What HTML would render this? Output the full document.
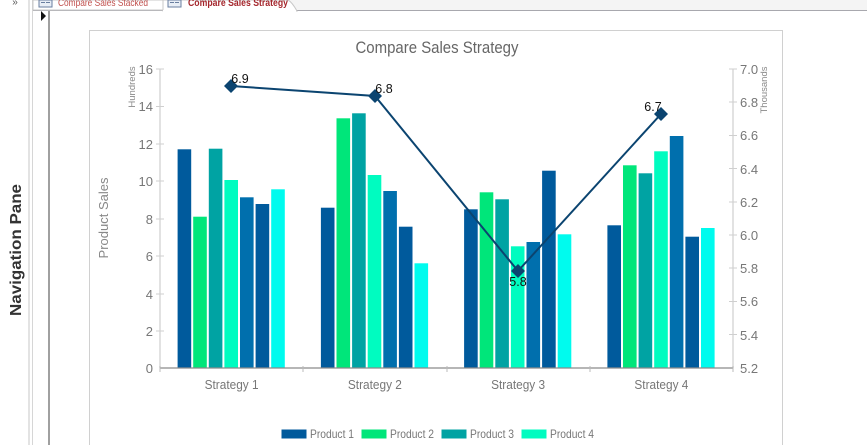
<!DOCTYPE html>
<html><head><meta charset="utf-8">
<style>
html,body{margin:0;padding:0;background:#fff;}
svg{display:block;font-family:"Liberation Sans",Arial,sans-serif;}
</style></head>
<body>
<svg width="867" height="445" viewBox="0 0 867 445" xmlns="http://www.w3.org/2000/svg">
<rect x="0" y="0" width="867" height="445" fill="#fff"/>
<!-- nav pane -->
<rect x="0" y="0" width="28" height="445" fill="#ffffff"/>
<rect x="28" y="0" width="2" height="445" fill="#e3e3e3"/>
<rect x="32" y="0" width="1" height="445" fill="#d6d6d6"/>
<text x="15" y="5" font-size="10" fill="#555" text-anchor="middle">»</text>
<text transform="translate(21,250) rotate(-90)" font-size="15.5" font-weight="bold" fill="#333" text-anchor="middle" textLength="132" lengthAdjust="spacingAndGlyphs">Navigation Pane</text>
<!-- tab bar -->
<rect x="33" y="0" width="834" height="10" fill="#f4f4f4"/>
<rect x="33" y="10" width="834" height="1" fill="#a8a8ae"/>
<path d="M33,0 L33,10 L163,10 L163,0 Z" fill="#fff" stroke="#c8c8c8" stroke-width="1"/>
<path d="M163,0 L163,11 L297,11 Q292,2 288,0 Z" fill="#fff" stroke="#c8c8c8" stroke-width="1"/>
<rect x="163" y="10" width="133" height="2" fill="#fff"/>
<!-- tab icons -->
<rect x="39" y="0" width="13" height="7" fill="#e8eef6" stroke="#6a7fa0" stroke-width="1"/>
<rect x="41" y="2" width="4" height="1" fill="#6a7fa0"/><rect x="46" y="2" width="4" height="1" fill="#6a7fa0"/>
<rect x="168" y="0" width="13" height="7" fill="#e8eef6" stroke="#6a7fa0" stroke-width="1"/>
<rect x="170" y="2" width="4" height="1" fill="#6a7fa0"/><rect x="175" y="2" width="4" height="1" fill="#6a7fa0"/>
<text x="58" y="6" font-size="10.5" fill="#c0504d" textLength="90" lengthAdjust="spacingAndGlyphs">Compare Sales Stacked</text>
<text x="188" y="6" font-size="10.5" font-weight="bold" fill="#a4262c" textLength="100" lengthAdjust="spacingAndGlyphs">Compare Sales Strategy</text>
<!-- record selector column -->
<rect x="48" y="11" width="2" height="434" fill="#a0a0a0"/>
<path d="M41,11 L46,16 L41,21 Z" fill="#111"/>
<!-- chart frame -->
<path d="M89.5,445 L89.5,30.5 L782.5,30.5 L782.5,445" fill="none" stroke="#d0d0d0" stroke-width="1"/>
<!-- title -->
<text x="437" y="53" font-size="16.5" fill="#666" text-anchor="middle" textLength="163" lengthAdjust="spacingAndGlyphs">Compare Sales Strategy</text>
<!-- axes -->
<line x1="160" y1="69" x2="160" y2="368" stroke="#d9d9d9" stroke-width="1.5"/>
<line x1="733" y1="69" x2="733" y2="368" stroke="#d9d9d9" stroke-width="1.5"/>
<g stroke="#cfcfcf" stroke-width="1">
<line x1="156" y1="69" x2="164" y2="69"/><line x1="156" y1="106.5" x2="164" y2="106.5"/>
<line x1="156" y1="144" x2="164" y2="144"/><line x1="156" y1="181" x2="164" y2="181"/>
<line x1="156" y1="219" x2="164" y2="219"/><line x1="156" y1="256" x2="164" y2="256"/>
<line x1="156" y1="294" x2="164" y2="294"/><line x1="156" y1="331" x2="164" y2="331"/>
<line x1="729" y1="69" x2="737" y2="69"/><line x1="729" y1="102" x2="737" y2="102"/>
<line x1="729" y1="135.5" x2="737" y2="135.5"/><line x1="729" y1="168.5" x2="737" y2="168.5"/>
<line x1="729" y1="202" x2="737" y2="202"/><line x1="729" y1="235" x2="737" y2="235"/>
<line x1="729" y1="268" x2="737" y2="268"/><line x1="729" y1="301.5" x2="737" y2="301.5"/>
<line x1="729" y1="334.5" x2="737" y2="334.5"/>
</g>
<g font-size="13" fill="#777" text-anchor="end">
<text x="153" y="74">16</text><text x="153" y="111">14</text><text x="153" y="149">12</text>
<text x="153" y="186">10</text><text x="153" y="224">8</text><text x="153" y="261">6</text>
<text x="153" y="299">4</text><text x="153" y="336">2</text><text x="153" y="373">0</text>
</g>
<g font-size="13" fill="#777">
<text x="740" y="74">7.0</text><text x="740" y="107">6.8</text><text x="740" y="140">6.6</text>
<text x="740" y="174">6.4</text><text x="740" y="207">6.2</text><text x="740" y="240">6.0</text>
<text x="740" y="273">5.8</text><text x="740" y="306">5.6</text><text x="740" y="340">5.4</text>
<text x="740" y="373">5.2</text>
</g>
<text transform="translate(135,87) rotate(-90)" font-size="9.5" fill="#888" text-anchor="middle">Hundreds</text>
<text transform="translate(767,90) rotate(-90)" font-size="9.5" fill="#888" text-anchor="middle">Thousands</text>
<text transform="translate(108,218) rotate(-90)" font-size="13" fill="#888" text-anchor="middle">Product Sales</text>
<!-- bars -->
<g>
<!-- group 1 -->
<rect x="177.6" y="149.3" width="13.6" height="218.7" fill="#005a9c"/>
<rect x="193.2" y="216.7" width="13.6" height="151.3" fill="#00e67a"/>
<rect x="208.8" y="148.7" width="13.6" height="219.3" fill="#00a3a3"/>
<rect x="224.4" y="180" width="13.6" height="188" fill="#00fcc0"/>
<rect x="240.0" y="197.3" width="13.6" height="170.7" fill="#006fad"/>
<rect x="255.6" y="204" width="13.6" height="164" fill="#005a9c"/>
<rect x="271.2" y="189.3" width="13.6" height="178.7" fill="#00fbee"/>
<!-- group 2 -->
<rect x="320.9" y="207.7" width="13.6" height="160.3" fill="#005a9c"/>
<rect x="336.5" y="118.3" width="13.6" height="249.7" fill="#00e67a"/>
<rect x="352.1" y="113.3" width="13.6" height="254.7" fill="#00a3a3"/>
<rect x="367.7" y="175" width="13.6" height="193" fill="#00fcc0"/>
<rect x="383.3" y="191" width="13.6" height="177" fill="#006fad"/>
<rect x="398.9" y="226.7" width="13.6" height="141.3" fill="#005a9c"/>
<rect x="414.5" y="263.3" width="13.6" height="104.7" fill="#00fbee"/>
<!-- group 3 -->
<rect x="464.1" y="209.3" width="13.6" height="158.7" fill="#005a9c"/>
<rect x="479.7" y="192.3" width="13.6" height="175.7" fill="#00e67a"/>
<rect x="495.3" y="199.3" width="13.6" height="168.7" fill="#00a3a3"/>
<rect x="510.9" y="246.3" width="13.6" height="121.7" fill="#00fcc0"/>
<rect x="526.5" y="242" width="13.6" height="126" fill="#006fad"/>
<rect x="542.1" y="170.7" width="13.6" height="197.3" fill="#005a9c"/>
<rect x="557.7" y="234.3" width="13.6" height="133.7" fill="#00fbee"/>
<!-- group 4 -->
<rect x="607.4" y="225.3" width="13.6" height="142.7" fill="#005a9c"/>
<rect x="623.0" y="165.3" width="13.6" height="202.7" fill="#00e67a"/>
<rect x="638.6" y="173.3" width="13.6" height="194.7" fill="#00a3a3"/>
<rect x="654.2" y="151.3" width="13.6" height="216.7" fill="#00fcc0"/>
<rect x="669.8" y="136" width="13.6" height="232" fill="#006fad"/>
<rect x="685.4" y="236.7" width="13.6" height="131.3" fill="#005a9c"/>
<rect x="701.0" y="228" width="13.6" height="140" fill="#00fbee"/>
</g>
<!-- baseline -->
<line x1="160" y1="368" x2="733" y2="368" stroke="#8a8a8a" stroke-width="1.3"/>
<g stroke="#bbb" stroke-width="1">
<line x1="160" y1="366" x2="160" y2="372"/><line x1="303" y1="366" x2="303" y2="372"/>
<line x1="447" y1="366" x2="447" y2="372"/><line x1="590" y1="366" x2="590" y2="372"/>
<line x1="733" y1="366" x2="733" y2="372"/>
</g>
<g font-size="12.5" fill="#777" text-anchor="middle">
<text x="231.6" y="389" textLength="54" lengthAdjust="spacingAndGlyphs">Strategy 1</text>
<text x="374.9" y="389" textLength="54" lengthAdjust="spacingAndGlyphs">Strategy 2</text>
<text x="518.1" y="389" textLength="54" lengthAdjust="spacingAndGlyphs">Strategy 3</text>
<text x="661.4" y="389" textLength="54" lengthAdjust="spacingAndGlyphs">Strategy 4</text>
</g>
<!-- line series -->
<polyline points="231,86 375,96 518,271 661,114" fill="none" stroke="#0b4470" stroke-width="2"/>
<g fill="#0b4470">
<path d="M231,79 L238,86 L231,93 L224,86 Z"/>
<path d="M375,89 L382,96 L375,103 L368,96 Z"/>
<path d="M518,264 L525,271 L518,278 L511,271 Z"/>
<path d="M661,107 L668,114 L661,121 L654,114 Z"/>
</g>
<g font-size="12.5" fill="#111" text-anchor="middle">
<text x="240" y="83">6.9</text>
<text x="384" y="93">6.8</text>
<text x="518" y="286">5.8</text>
<text x="653" y="111">6.7</text>
</g>
<!-- legend -->
<rect x="281.5" y="429.5" width="25" height="9" fill="#005a9c"/>
<text x="310" y="438" font-size="12" fill="#777" textLength="44" lengthAdjust="spacingAndGlyphs">Product 1</text>
<rect x="361.5" y="429.5" width="25" height="9" fill="#00e67a"/>
<text x="390" y="438" font-size="12" fill="#777" textLength="44" lengthAdjust="spacingAndGlyphs">Product 2</text>
<rect x="441.5" y="429.5" width="25" height="9" fill="#00a3a3"/>
<text x="470" y="438" font-size="12" fill="#777" textLength="44" lengthAdjust="spacingAndGlyphs">Product 3</text>
<rect x="521.5" y="429.5" width="25" height="9" fill="#00fcc0"/>
<text x="550" y="438" font-size="12" fill="#777" textLength="44" lengthAdjust="spacingAndGlyphs">Product 4</text>
</svg>
</body></html>
